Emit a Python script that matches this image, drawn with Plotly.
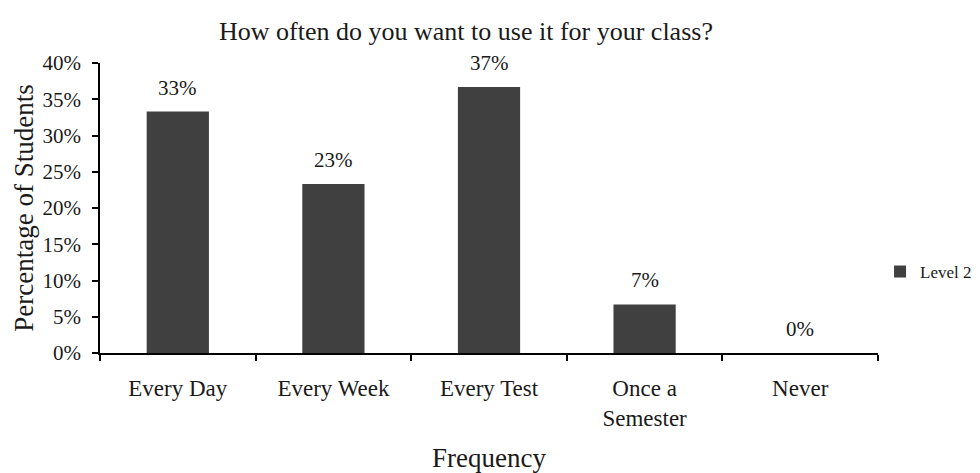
import plotly.graph_objects as go

categorias = ["Every Day", "Every Week", "Every Test", "Once a<br>Semester", "Never"]
percentuais = [33.3, 23.3, 36.7, 6.7, 0.0]
rotulos = ["33%", "23%", "37%", "7%", "0%"]
y_ticks = [0, 5, 10, 15, 20, 25, 30, 35, 40]
y_tick_labels = [f"{v}%" for v in y_ticks]

FONTE = "Liberation Serif, Times New Roman, serif"
COR_BARRA = "#404040"
COR_TEXTO = "#1a1a1a"

fig = go.Figure()
fig.add_trace(go.Bar(x=categorias, y=percentuais, name="Level 2",
                     marker=dict(color=COR_BARRA, line_width=0),
                     showlegend=True))

for cat, val, txt in zip(categorias, percentuais, rotulos):
    fig.add_annotation(x=cat, y=val, text=txt, showarrow=False,
                       yanchor="bottom", yshift=10,
                       font=dict(family=FONTE, size=21, color=COR_TEXTO))

fig.update_layout(
    width=980, height=473,
    margin=dict(l=100, r=102, t=63, b=120),
    plot_bgcolor="white", paper_bgcolor="white",
    font=dict(family=FONTE, size=21, color=COR_TEXTO),
    title=dict(text="How often do you want to use it for your class?",
               x=0.4755, xanchor="center", y=0.935, yanchor="middle",
               font=dict(family=FONTE, size=26, color=COR_TEXTO)),
    bargap=0.6,
    showlegend=True,
    legend=dict(xref="container", yref="container", x=0.898, y=0.425,
                xanchor="left", yanchor="middle",
                font=dict(family=FONTE, size=17, color=COR_TEXTO),
                itemwidth=30, bgcolor="rgba(0,0,0,0)"),
    xaxis=dict(title=dict(text="Frequency", font=dict(size=27), standoff=18),
               tickfont=dict(size=23), ticklabelstandoff=14, automargin=False,
               showline=True, linecolor="black", linewidth=1.5,
               ticks="outside", tickson="boundaries", ticklen=6,
               tickcolor="black", tickwidth=1.5, showgrid=False),
    yaxis=dict(title=dict(text="Percentage of Students", font=dict(size=27), standoff=1),
               tickfont=dict(size=21), ticklabelstandoff=7, automargin=False,
               range=[0, 40], tickvals=y_ticks, ticktext=y_tick_labels,
               showline=True, linecolor="black", linewidth=1.5,
               ticks="outside", ticklen=6, tickcolor="black", tickwidth=1.5,
               showgrid=False, zeroline=False),
)

# a página tem margem padrão de 8px no body; zera para o gráfico ocupar a janela
fig.write_html("out.html", config={"displayModeBar": False},
               post_script="document.body.style.margin='0';")
